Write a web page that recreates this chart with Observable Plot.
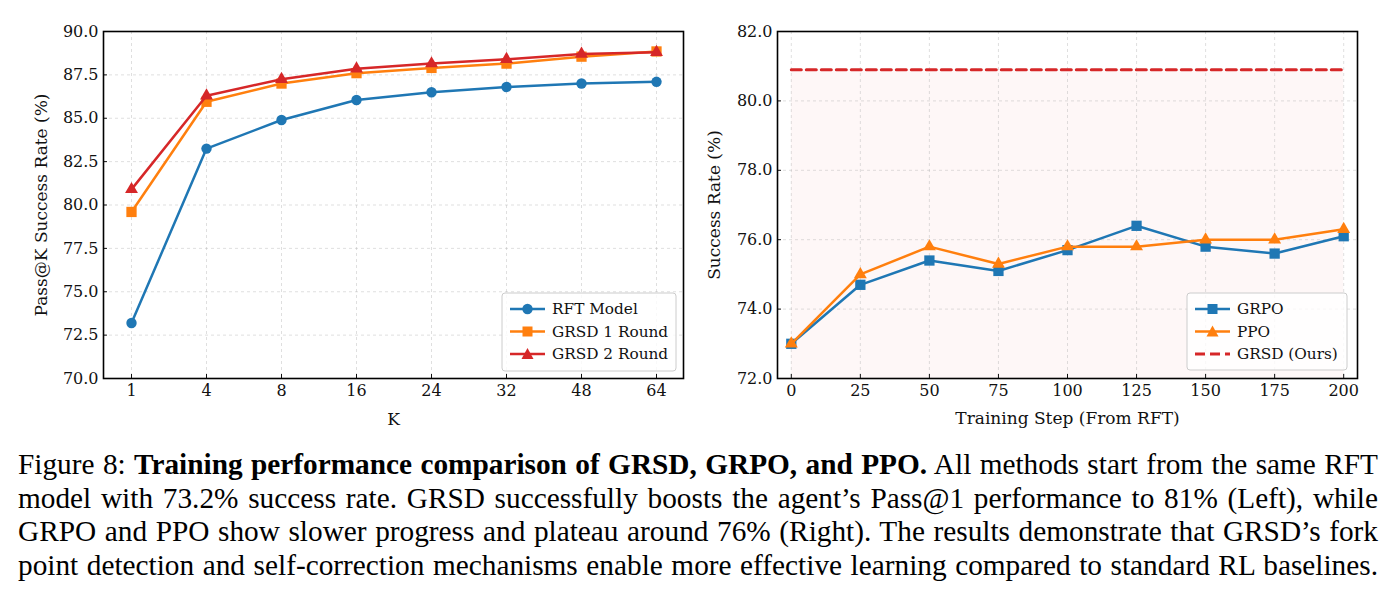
<!DOCTYPE html>
<html>
<head>
<meta charset="utf-8">
<script src="https://cdn.jsdelivr.net/npm/d3@7"></script>
<script src="https://cdn.jsdelivr.net/npm/@observablehq/plot@0.6"></script>
<style>
  html, body { margin: 0; padding: 0; background: #fff; }
  #wrap { position: relative; width: 1393px; height: 609px; overflow: hidden; }
  #left { position: absolute; left: 0; top: 0; }
  #right { position: absolute; left: 690px; top: 0; }
  #caption { position: absolute; left: 18px; top: 448px; width: 1360px;
    font-family: "Liberation Serif", "Times New Roman", serif; font-size: 29.3px; line-height: 33.6px; color: #000; }
  #caption div { text-align: justify; text-align-last: justify; white-space: nowrap; }
</style>
</head>
<body>
<div id="wrap">
  <div id="left"></div>
  <div id="right"></div>
  <div id="caption">
    <div>Figure 8: <b>Training performance comparison of GRSD, GRPO, and PPO.</b> All methods start from the same RFT</div>
    <div>model with 73.2% success rate. GRSD successfully boosts the agent’s Pass@1 performance to 81% (Left), while</div>
    <div>GRPO and PPO show slower progress and plateau around 76% (Right). The results demonstrate that GRSD’s fork</div>
    <div>point detection and self-correction mechanisms enable more effective learning compared to standard RL baselines.</div>
  </div>
</div>
<script>
// ---------- Data ----------
const kLabels = ["1", "4", "8", "16", "24", "32", "48", "64"];
const rftModel = [73.2, 83.25, 84.9, 86.05, 86.5, 86.8, 87.0, 87.1];
const grsd1Round = [79.6, 85.95, 87.0, 87.6, 87.9, 88.15, 88.55, 88.85];
const grsd2Round = [80.9, 86.3, 87.25, 87.85, 88.15, 88.4, 88.7, 88.8];
const leftYTicks = [70, 72.5, 75, 77.5, 80, 82.5, 85, 87.5, 90];

const steps = [0, 25, 50, 75, 100, 125, 150, 175, 200];
const grpo = [73.0, 74.7, 75.4, 75.1, 75.7, 76.4, 75.8, 75.6, 76.1];
const ppo = [73.0, 75.0, 75.8, 75.3, 75.8, 75.8, 76.0, 76.0, 76.3];
const grsdOurs = 80.9;
const rightYTicks = [72, 74, 76, 78, 80, 82];

const C_BLUE = "#1f77b4", C_ORANGE = "#ff7f0e", C_RED = "#d62728";
const FONT = "DejaVu Serif";

const toRows = (xs, ys) => xs.map((x, i) => ({x, y: ys[i]}));
const fmt1 = d3.format(".1f");

function gridOpts(ticks) {
  return {ticks, stroke: "#b0b0b0", strokeOpacity: 0.5, strokeDasharray: "3,3", strokeWidth: 0.8};
}

function addLegend(svg, box, items) {
  const g = d3.select(svg).append("g").attr("font-family", FONT).attr("font-size", 15.3)
    .attr("text-anchor", "start");
  g.append("rect").attr("x", box.x).attr("y", box.y).attr("width", box.w).attr("height", box.h)
    .attr("rx", 3).attr("fill", "#fff").attr("fill-opacity", 0.8)
    .attr("stroke", "#cccccc").attr("stroke-width", 1);
  items.forEach((it, i) => {
    const cy = box.y + 16 + i * 22.5;
    const x0 = box.x + 8, x1 = box.x + 43;
    const line = g.append("line").attr("x1", x0).attr("x2", x1).attr("y1", cy).attr("y2", cy)
      .attr("stroke", it.color).attr("stroke-width", it.dash ? 3 : 2.5);
    if (it.dash) line.attr("stroke-dasharray", "10,5");
    const mx = (x0 + x1) / 2;
    if (it.symbol === "circle") g.append("circle").attr("cx", mx).attr("cy", cy).attr("r", 5.2).attr("fill", it.color);
    if (it.symbol === "square") g.append("rect").attr("x", mx - 5).attr("y", cy - 5).attr("width", 10).attr("height", 10).attr("fill", it.color);
    if (it.symbol === "triangle") g.append("path").attr("d", `M${mx},${cy - 6}L${mx + 6},${cy + 5}L${mx - 6},${cy + 5}Z`).attr("fill", it.color);
    g.append("text").attr("x", box.x + 50).attr("y", cy).attr("dy", "0.35em").attr("fill", "#111")
      .attr("text-anchor", "start").text(it.label);
  });
}

// ---------- Left chart ----------
const leftPlot = Plot.plot({
  width: 690, height: 440,
  marginLeft: 103, marginRight: 7, marginTop: 31, marginBottom: 62,
  style: {fontFamily: FONT, fontSize: "16px", color: "#111", background: "transparent"},
  x: {type: "point", domain: kLabels, padding: 0.345},
  y: {domain: [70, 90]},
  marks: [
    Plot.gridX(kLabels, gridOpts()),
    Plot.gridY(leftYTicks, gridOpts()),
    Plot.line(toRows(kLabels, rftModel), {x: "x", y: "y", stroke: C_BLUE, strokeWidth: 2.5}),
    Plot.dot(toRows(kLabels, rftModel), {x: "x", y: "y", fill: C_BLUE, r: 5.2, symbol: "circle"}),
    Plot.line(toRows(kLabels, grsd1Round), {x: "x", y: "y", stroke: C_ORANGE, strokeWidth: 2.5}),
    Plot.dot(toRows(kLabels, grsd1Round), {x: "x", y: "y", fill: C_ORANGE, r: 5.8, symbol: "square"}),
    Plot.line(toRows(kLabels, grsd2Round), {x: "x", y: "y", stroke: C_RED, strokeWidth: 2.5}),
    Plot.dot(toRows(kLabels, grsd2Round), {x: "x", y: "y", fill: C_RED, r: 4.8, symbol: "triangle"}),
    Plot.axisX({tickSize: -4, tickPadding: 10, label: null, fontSize: 16}),
    Plot.axisX({ticks: [], tickSize: 0, label: "K", labelAnchor: "center", labelArrow: "none", labelOffset: 46, fontSize: 17}),
    Plot.axisY({ticks: leftYTicks, tickFormat: fmt1, tickSize: -4, tickPadding: 9, label: null, fontSize: 16}),
    Plot.axisY({ticks: [], tickSize: 0, label: "Pass@K Success Rate (%)", labelAnchor: "center", labelArrow: "none", labelOffset: 69, fontSize: 17}),
    Plot.frame({stroke: "#000", strokeWidth: 1.6})
  ]
});
addLegend(leftPlot, {x: 502, y: 293, w: 174, h: 78}, [
  {label: "RFT Model", color: C_BLUE, symbol: "circle"},
  {label: "GRSD 1 Round", color: C_ORANGE, symbol: "square"},
  {label: "GRSD 2 Round", color: C_RED, symbol: "triangle"}
]);
document.getElementById("left").appendChild(leftPlot);

// ---------- Right chart ----------
const fillRows = [{x: d3.min(steps), y: grsdOurs}, {x: d3.max(steps), y: grsdOurs}];
const rightPlot = Plot.plot({
  width: 703, height: 440,
  marginLeft: 87, marginRight: 36, marginTop: 31, marginBottom: 62,
  style: {fontFamily: FONT, fontSize: "16px", color: "#111", background: "transparent"},
  x: {domain: [-5, 205]},
  y: {domain: [72, 82]},
  marks: [
    Plot.areaY(fillRows, {x: "x", y1: 72, y2: "y", fill: C_RED, fillOpacity: 0.035}),
    Plot.gridX(steps, gridOpts()),
    Plot.gridY(rightYTicks, gridOpts()),
    Plot.line(toRows(steps, grpo), {x: "x", y: "y", stroke: C_BLUE, strokeWidth: 2.5}),
    Plot.dot(toRows(steps, grpo), {x: "x", y: "y", fill: C_BLUE, r: 5.8, symbol: "square"}),
    Plot.line(toRows(steps, ppo), {x: "x", y: "y", stroke: C_ORANGE, strokeWidth: 2.5}),
    Plot.dot(toRows(steps, ppo), {x: "x", y: "y", fill: C_ORANGE, r: 4.8, symbol: "triangle"}),
    Plot.line(fillRows, {x: "x", y: "y", stroke: C_RED, strokeWidth: 3, strokeDasharray: "10,5"}),
    Plot.axisX({ticks: steps, tickSize: -4, tickPadding: 10, label: null, fontSize: 16}),
    Plot.axisX({ticks: [], tickSize: 0, label: "Training Step (From RFT)", labelAnchor: "center", labelArrow: "none", labelOffset: 45, fontSize: 17}),
    Plot.axisY({ticks: rightYTicks, tickFormat: fmt1, tickSize: -4, tickPadding: 9, label: null, fontSize: 16}),
    Plot.axisY({ticks: [], tickSize: 0, label: "Success Rate (%)", labelAnchor: "center", labelArrow: "none", labelOffset: 70, fontSize: 17}),
    Plot.frame({stroke: "#000", strokeWidth: 1.6})
  ]
});
addLegend(rightPlot, {x: 497, y: 293, w: 160, h: 77}, [
  {label: "GRPO", color: C_BLUE, symbol: "square"},
  {label: "PPO", color: C_ORANGE, symbol: "triangle"},
  {label: "GRSD (Ours)", color: C_RED, dash: true}
]);
document.getElementById("right").appendChild(rightPlot);
</script>
</body>
</html>
